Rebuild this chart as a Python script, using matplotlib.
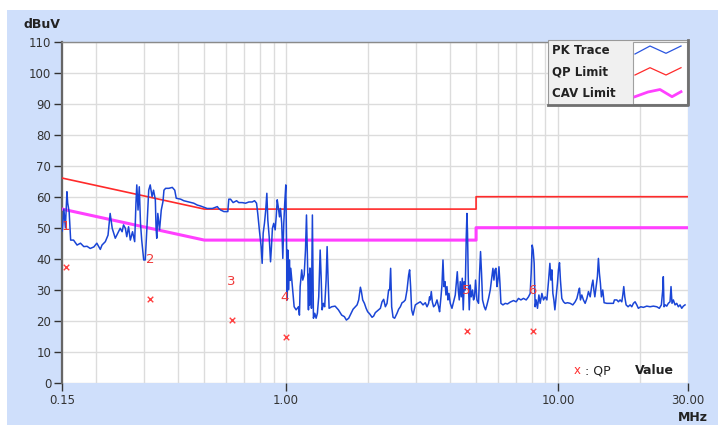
import matplotlib
matplotlib.use("Agg")
import matplotlib.pyplot as plt
from matplotlib.patches import Rectangle
from matplotlib.ticker import NullFormatter

# ---------------- data ----------------
pk_freq = [
    0.150, 0.152, 0.154, 0.156, 0.157, 0.159, 0.161, 0.165, 0.170, 0.175, 0.180, 0.185, 0.190, 0.196,
    0.201, 0.207, 0.210, 0.216, 0.221, 0.225, 0.229, 0.235, 0.240, 0.245, 0.249, 0.252, 0.256, 0.259,
    0.263, 0.267, 0.272, 0.277, 0.280, 0.282, 0.285, 0.288, 0.291, 0.294, 0.299, 0.303, 0.307, 0.312,
    0.316, 0.321, 0.325, 0.330, 0.332, 0.334, 0.337, 0.342, 0.347, 0.352, 0.355, 0.360, 0.370, 0.381,
    0.389, 0.394, 0.409, 0.420, 0.433, 0.445, 0.457, 0.471, 0.484, 0.498, 0.512, 0.535, 0.550, 0.558,
    0.565, 0.574, 0.590, 0.610, 0.615, 0.624, 0.638, 0.657, 0.669, 0.689, 0.709, 0.729, 0.750, 0.765,
    0.778, 0.786, 0.798, 0.809, 0.816, 0.823, 0.832, 0.841, 0.849, 0.856, 0.866, 0.870, 0.876, 0.883,
    0.890, 0.900, 0.911, 0.919, 0.927, 0.935, 0.945, 0.953, 0.963, 0.972, 0.980, 0.988, 0.997, 1.003,
    1.009, 1.014, 1.020, 1.028, 1.034, 1.040, 1.049, 1.057, 1.070, 1.088, 1.110, 1.119, 1.126, 1.141,
    1.151, 1.165, 1.178, 1.188, 1.198, 1.208, 1.213, 1.218, 1.223, 1.228, 1.234, 1.239, 1.249, 1.260,
    1.274, 1.289, 1.303, 1.318, 1.334, 1.345, 1.356, 1.371, 1.386, 1.403, 1.415, 1.427, 1.439, 1.471,
    1.514, 1.557, 1.601, 1.638, 1.666, 1.699, 1.734, 1.763, 1.798, 1.824, 1.849, 1.876, 1.892, 1.913,
    1.941, 1.969, 1.995, 2.029, 2.071, 2.099, 2.129, 2.161, 2.189, 2.222, 2.254, 2.285, 2.318, 2.351,
    2.383, 2.404, 2.424, 2.445, 2.474, 2.508, 2.559, 2.594, 2.632, 2.670, 2.706, 2.745, 2.785, 2.823,
    2.847, 2.871, 2.896, 2.930, 2.988, 3.047, 3.117, 3.189, 3.252, 3.299, 3.344, 3.372, 3.392, 3.421,
    3.451, 3.488, 3.539, 3.590, 3.639, 3.670, 3.714, 3.745, 3.777, 3.810, 3.842, 3.874, 3.907, 3.941,
    3.974, 4.018, 4.076, 4.132, 4.192, 4.227, 4.264, 4.300, 4.336, 4.373, 4.410, 4.448, 4.485, 4.523,
    4.562, 4.601, 4.628, 4.651, 4.679, 4.719, 4.759, 4.799, 4.853, 4.894, 4.936, 4.978, 5.037, 5.106,
    5.150, 5.193, 5.237, 5.282, 5.358, 5.418, 5.483, 5.558, 5.638, 5.720, 5.768, 5.817, 5.867, 5.917,
    5.967, 6.018, 6.069, 6.121, 6.172, 6.278, 6.402, 6.527, 6.677, 6.867, 7.025, 7.163, 7.311, 7.473,
    7.646, 7.796, 7.909, 7.975, 8.043, 8.112, 8.181, 8.249, 8.320, 8.414, 8.514, 8.608, 8.734, 8.853,
    8.981, 9.112, 9.236, 9.346, 9.426, 9.504, 9.585, 9.667, 9.750, 9.858, 9.966, 10.05, 10.14, 10.22,
    10.34, 10.49, 10.64, 10.85, 11.10, 11.35, 11.58, 11.75, 11.91, 12.01, 12.11, 12.25, 12.42, 12.60,
    12.79, 12.96, 13.15, 13.34, 13.46, 13.57, 13.68, 13.83, 13.98, 14.10, 14.22, 14.34, 14.46, 14.63,
    14.80, 15.14, 15.57, 16.01, 16.15, 16.48, 16.71, 16.94, 17.19, 17.34, 17.48, 17.63, 17.83, 18.13,
    18.45, 18.71, 18.97, 19.24, 19.52, 19.78, 20.19, 20.64, 21.24, 21.84, 22.46, 23.12, 23.63, 24.04,
    24.32, 24.44, 24.59, 24.86, 25.16, 25.50, 25.87, 26.09, 26.31, 26.61, 27.00, 27.38, 27.76, 28.16,
    28.57, 28.96, 29.38,
]
pk_level = [
    49.0, 56.0, 50.0, 61.6, 58.0, 55.0, 46.0, 46.0, 44.4, 45.0, 43.9, 44.0, 43.3, 43.8,
    45.0, 43.0, 44.4, 45.5, 47.6, 54.6, 49.8, 46.6, 48.2, 49.8, 48.7, 50.9, 49.8, 47.1,
    50.3, 46.0, 48.7, 45.5, 57.9, 63.8, 55.7, 63.2, 51.4, 46.0, 39.6, 39.6, 49.3, 62.1,
    63.8, 60.0, 62.1, 59.0, 50.0, 46.6, 54.6, 49.3, 55.7, 58.4, 62.1, 62.7, 62.7, 63.0,
    62.1, 59.5, 59.2, 58.7, 58.4, 58.1, 57.9, 57.3, 57.0, 56.6, 56.2, 56.2, 56.6, 56.8,
    56.2, 55.7, 55.2, 55.2, 59.2, 59.2, 58.1, 58.7, 58.1, 58.1, 57.9, 58.3, 58.3, 58.7,
    57.9, 54.6, 48.7, 43.9, 38.5, 48.2, 51.4, 55.7, 61.1, 52.5, 47.1, 43.9, 39.0, 43.9,
    49.8, 51.4, 49.3, 53.5, 59.0, 56.8, 53.5, 56.2, 51.4, 40.1, 51.4, 57.9, 63.8, 45.0,
    26.7, 42.8, 30.0, 39.6, 33.0, 36.9, 33.1, 29.9, 24.5, 23.5, 24.5, 21.8, 31.0, 36.4,
    33.1, 34.8, 42.8, 54.1, 39.6, 23.5, 35.0, 25.0, 37.0, 26.0, 33.0, 24.0, 54.1, 20.8,
    22.4, 20.8, 22.4, 27.7, 42.8, 34.2, 23.5, 25.6, 24.5, 33.1, 43.9, 33.1, 24.0, 24.5,
    24.7, 23.5, 21.8, 21.3, 20.2, 20.8, 22.4, 23.7, 24.5, 25.1, 26.7, 30.8, 29.4, 26.7,
    25.6, 24.0, 22.9, 22.2, 21.1, 21.5, 22.6, 23.1, 23.5, 24.0, 26.1, 26.9, 24.5, 25.6,
    29.9, 29.9, 36.9, 24.5, 21.1, 20.8, 22.4, 23.7, 24.5, 25.8, 26.1, 26.7, 29.9, 34.7,
    36.4, 31.0, 23.5, 21.8, 25.1, 25.6, 26.1, 25.1, 25.8, 24.5, 25.6, 27.7, 26.7, 29.4,
    26.1, 24.5, 25.1, 26.7, 24.5, 22.9, 27.7, 31.5, 39.6, 31.0, 32.6, 28.3, 31.0, 26.7,
    28.8, 25.6, 24.0, 26.1, 28.3, 32.1, 35.8, 29.9, 26.7, 32.6, 27.7, 33.7, 23.5, 32.6,
    29.9, 47.1, 54.6, 48.2, 34.2, 23.5, 31.5, 27.7, 29.9, 26.7, 27.7, 33.1, 26.7, 25.6,
    35.3, 42.3, 35.3, 26.7, 24.5, 23.5, 25.1, 27.2, 29.9, 34.2, 36.9, 33.1, 36.4, 36.9,
    31.0, 33.1, 37.4, 32.1, 25.6, 25.1, 25.6, 25.4, 26.0, 26.5, 26.1, 27.2, 26.7, 27.2,
    26.7, 27.7, 28.8, 35.3, 44.4, 42.8, 38.5, 24.5, 26.7, 24.0, 28.3, 25.6, 28.8, 26.7,
    27.7, 26.7, 32.6, 38.5, 33.1, 36.4, 28.8, 26.7, 23.5, 27.7, 32.1, 36.4, 38.7, 33.1,
    27.2, 26.1, 25.6, 25.8, 25.6, 25.1, 26.1, 27.2, 29.4, 30.5, 26.7, 28.3, 26.7, 25.6,
    27.2, 29.4, 27.7, 31.5, 33.1, 29.9, 27.7, 31.0, 34.2, 40.1, 35.3, 32.1, 27.7, 29.9,
    25.8, 25.6, 25.6, 25.6, 26.7, 26.7, 26.1, 26.7, 26.1, 28.3, 31.0, 27.7, 25.1, 24.5,
    25.1, 24.5, 25.6, 26.1, 25.1, 24.0, 24.5, 24.3, 24.7, 24.5, 24.7, 24.5, 24.0, 25.1,
    29.9, 34.2, 24.5, 25.1, 24.7, 25.6, 26.1, 31.0, 25.6, 26.7, 25.1, 25.6, 24.5, 25.1,
    24.0, 24.7, 25.1,
]

limit_freq = [0.15, 0.5, 5.0, 5.0, 30.0]
qp_limit = [66, 56, 56, 60, 60]
cav_limit = [56, 46, 46, 50, 50]

qp_freq = [0.155, 0.315, 0.633, 1.00, 4.63, 8.07]
qp_value = [37.4, 27.1, 20.1, 14.8, 16.8, 16.8]

peak_ids = ["1", "2", "3", "4", "5", "6"]
peak_label_freq = [0.155, 0.315, 0.630, 0.988, 4.60, 8.02]
peak_label_level = [50.3, 39.8, 32.8, 27.4, 29.6, 29.6]

x_ticks = [0.15, 1.0, 10.0, 30.0]
x_tick_labels = ["0.15", "1.00", "10.00", "30.00"]
x_minor = [0.2, 0.3, 0.4, 0.5, 0.6, 0.7, 0.8, 0.9, 2, 3, 4, 5, 6, 7, 8, 9, 20]
y_ticks = list(range(0, 111, 10))

legend_names = ["PK Trace", "QP Limit", "CAV Limit"]

# ---------------- figure ----------------
W, H = 718, 425
fig = plt.figure(figsize=(W / 100, H / 100), dpi=100)
fig.patch.set_facecolor("white")

bg = fig.add_axes([0, 0, 1, 1], zorder=0)
bg.set_xlim(0, W)
bg.set_ylim(H, 0)
bg.axis("off")
bg.add_patch(Rectangle((7, 10), W - 7, H - 10, facecolor="#cfdffb", edgecolor="none"))

left, right, top, bottom = 62.3, 687.5, 41.7, 382.7
ax = fig.add_axes([left / W, 1 - bottom / H, (right - left) / W, (bottom - top) / H], zorder=1)
ax.set_facecolor("white")
ax.set_xscale("log")
ax.set_xlim(0.15, 30)
ax.set_ylim(0, 110)

ax.set_xticks(x_ticks)
ax.set_xticklabels(x_tick_labels)
ax.set_xticks(x_minor, minor=True)
ax.xaxis.set_minor_formatter(NullFormatter())
ax.set_yticks(y_ticks)
ax.tick_params(axis="both", which="major", direction="out", length=6, width=1,
               color="#333333", labelsize=8.5, labelcolor="#333333", pad=2)
ax.tick_params(axis="x", which="minor", length=0)
ax.grid(True, which="both", color="#dcdcdc", lw=1)
ax.set_axisbelow(True)

for s in ["right", "bottom"]:
    ax.spines[s].set_visible(False)
ax.spines["left"].set_color("#666666")
ax.spines["left"].set_linewidth(1.6)
ax.spines["top"].set_color("#8a8a8a")
ax.spines["top"].set_linewidth(1)

ax.plot(limit_freq, qp_limit, color="#ff2a2a", lw=1.2, zorder=3)
ax.plot(limit_freq, cav_limit, color="#ff40ff", lw=2.2, zorder=3)
ax.plot(pk_freq, pk_level, color="#1a45d6", lw=1.1, zorder=4)
ax.scatter(qp_freq, qp_value, marker="x", color="#ff4040", s=16, linewidths=1, zorder=5)
for lab, f, v in zip(peak_ids, peak_label_freq, peak_label_level):
    ax.text(f, v, lab, color="#f03a3a", fontsize=9.5, ha="center", va="center", zorder=6)

# ---------------- overlay (legend & captions) ----------------
ov = fig.add_axes([0, 0, 1, 1], zorder=3)
ov.set_xlim(0, W)
ov.set_ylim(H, 0)
ov.axis("off")
ov.patch.set_visible(False)

ov.text(23, 24.5, "dBuV", fontsize=9, fontweight="bold", color="#222222", ha="left", va="center")
ov.text(708, 417.5, "MHz", fontsize=9, fontweight="bold", color="#222222", ha="right", va="center")

ov.add_patch(Rectangle((548, 40), 140, 65, facecolor="#f0f0f0", edgecolor="#9a9a9a", lw=0.8))
ov.plot([688, 688, 548], [40, 105, 105], color="#707070", lw=2)
ov.add_patch(Rectangle((632.5, 42), 54, 61.5, facecolor="white", edgecolor="#a0a0a0", lw=0.8))
for name, yy in zip(legend_names, [50, 71.7, 93.3]):
    ov.text(552, yy, name, fontsize=8.5, fontweight="bold", color="#222222", ha="left", va="center")
ov.plot([635, 650, 666, 681], [54, 46, 53.3, 46], color="#2a55e0", lw=0.9)
ov.plot([635, 650, 666, 681], [75, 67.7, 75, 67.7], color="#ff2a2a", lw=0.9)
ov.plot([635, 648, 660, 672, 681], [96.7, 92, 89.5, 96.7, 91.7], color="#ff40ff", lw=2)

ov.text(577, 370.7, "x", fontsize=8.5, color="#ff3030", ha="center", va="center")
ov.text(585, 370.7, ": QP", fontsize=9, color="#222222", ha="left", va="center")
ov.text(635, 370.7, "Value", fontsize=9, fontweight="bold", color="#222222", ha="left", va="center")

fig.savefig("out.png", dpi=100, facecolor="white")
